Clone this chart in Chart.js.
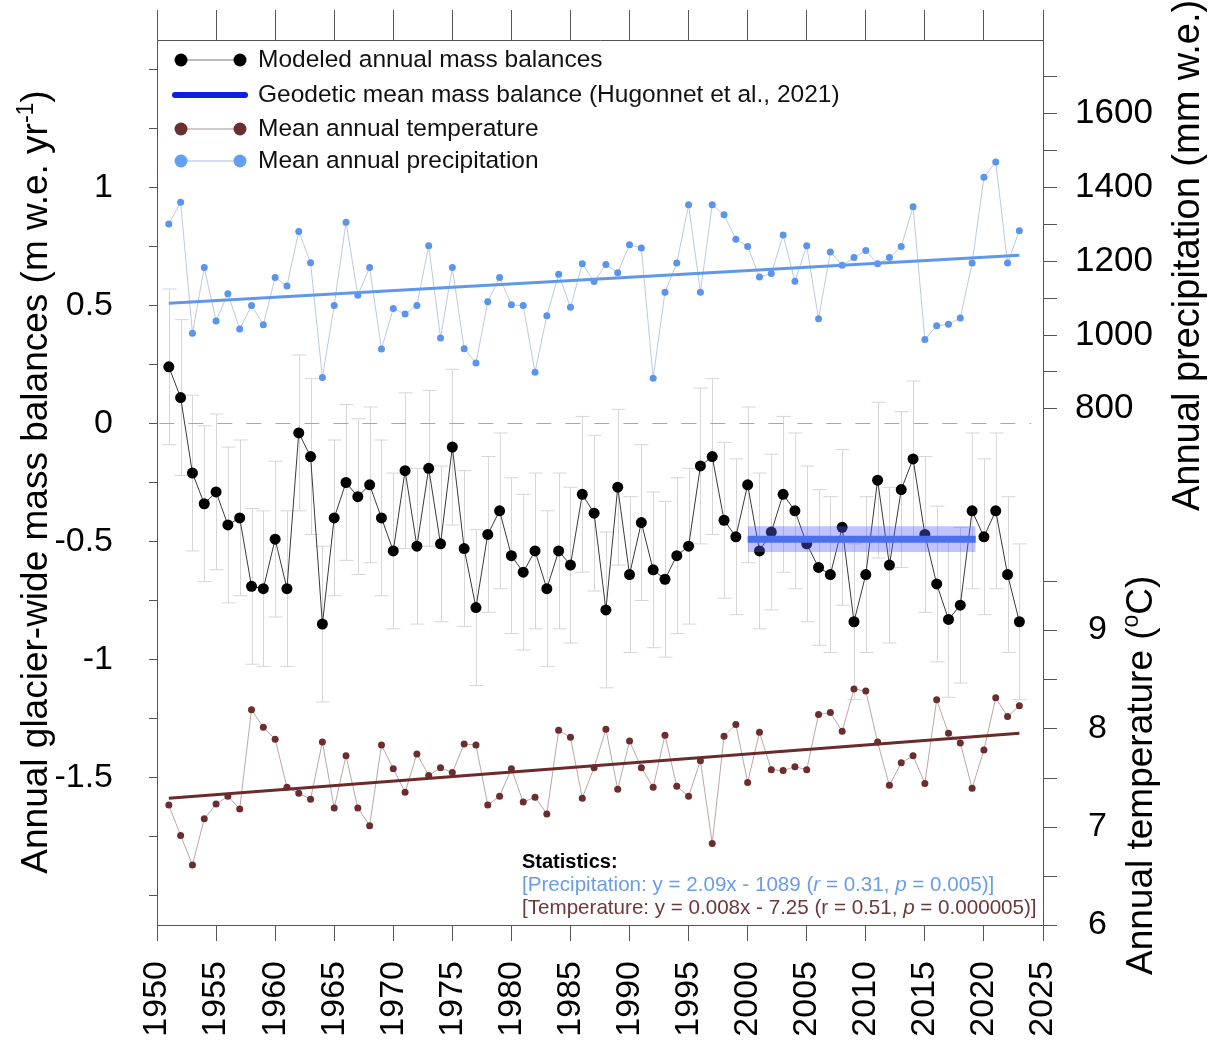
<!DOCTYPE html>
<html>
<head>
<meta charset="utf-8">
<script src="https://cdn.jsdelivr.net/npm/chart.js@4.4.1/dist/chart.umd.min.js"></script>
<style>
  html, body { margin: 0; padding: 0; background: #fff; }
  #wrap { width: 1208px; height: 1041px; position: relative; }
</style>
</head>
<body>
<div id="wrap"><canvas id="massChart"></canvas></div>
<script>
// years of the modeled series
const years = [
  1951, 1952, 1953, 1954, 1955, 1956, 1957, 1958, 1959, 1960,
  1961, 1962, 1963, 1964, 1965, 1966, 1967, 1968, 1969, 1970,
  1971, 1972, 1973, 1974, 1975, 1976, 1977, 1978, 1979, 1980,
  1981, 1982, 1983, 1984, 1985, 1986, 1987, 1988, 1989, 1990,
  1991, 1992, 1993, 1994, 1995, 1996, 1997, 1998, 1999, 2000,
  2001, 2002, 2003, 2004, 2005, 2006, 2007, 2008, 2009, 2010,
  2011, 2012, 2013, 2014, 2015, 2016, 2017, 2018, 2019, 2020,
  2021, 2022, 2023
];
// m w.e. per year
const massBalance = [
  0.24, 0.11, -0.21, -0.34, -0.29, -0.43, -0.40, -0.69, -0.70, -0.49,
  -0.70, -0.04, -0.14, -0.85, -0.40, -0.25, -0.31, -0.26, -0.40, -0.54,
  -0.20, -0.52, -0.19, -0.51, -0.10, -0.53, -0.78, -0.47, -0.37, -0.56,
  -0.63, -0.54, -0.70, -0.54, -0.60, -0.30, -0.38, -0.79, -0.27, -0.64,
  -0.42, -0.62, -0.66, -0.56, -0.52, -0.18, -0.14, -0.41, -0.48, -0.26,
  -0.54, -0.46, -0.30, -0.37, -0.51, -0.61, -0.64, -0.44, -0.84, -0.64,
  -0.24, -0.60, -0.28, -0.15, -0.47, -0.68, -0.83, -0.77, -0.37, -0.48,
  -0.37, -0.64, -0.84
];
const massError = 0.33;
// mm w.e.
const precipitation = [
  1301, 1360, 1005, 1183, 1038, 1112, 1016, 1080, 1028, 1156,
  1133, 1281, 1196, 885, 1080, 1306, 1108, 1183, 962, 1072,
  1057, 1080, 1242, 992, 1183, 963, 924, 1090, 1156, 1082,
  1080, 899, 1052, 1165, 1075, 1193, 1145, 1191, 1169, 1245,
  1236, 883, 1116, 1195, 1353, 1116, 1353, 1326, 1260, 1240,
  1157, 1167, 1271, 1146, 1242, 1044, 1225, 1189, 1210, 1229,
  1193, 1210, 1240, 1348, 988, 1025, 1029, 1046, 1195, 1428,
  1469, 1195, 1283
];
// deg C
const temperature = [
  7.22, 6.91, 6.61, 7.08, 7.23, 7.31, 7.18, 8.19, 8.01, 7.89,
  7.40, 7.34, 7.28, 7.86, 7.19, 7.72, 7.19, 7.01, 7.83, 7.59,
  7.35, 7.74, 7.52, 7.60, 7.55, 7.84, 7.83, 7.22, 7.31, 7.59,
  7.25, 7.30, 7.13, 7.98, 7.91, 7.29, 7.60, 7.99, 7.38, 7.87,
  7.60, 7.40, 7.93, 7.41, 7.31, 7.67, 6.83, 7.92, 8.04, 7.45,
  7.96, 7.58, 7.57, 7.61, 7.58, 8.14, 8.16, 7.97, 8.40, 8.38,
  7.86, 7.42, 7.65, 7.72, 7.44, 8.29, 7.95, 7.85, 7.39, 7.78,
  8.31, 8.12, 8.23
];
const trendYears = [1951, 2023];
const precipTrend = [1086, 1216];
const tempTrend = [7.29, 7.95];
const geodeticYears = [2000, 2019.3];
const geodeticMean = -0.49;
const geodeticLow = -0.545;
const geodeticHigh = -0.435;
const zeroLineYears = [1950.2, 2024];

const xTicks = [1950, 1955, 1960, 1965, 1970, 1975, 1980, 1985, 1990, 1995, 2000, 2005, 2010, 2015, 2020, 2025];
const massTicks = [-2, -1.75, -1.5, -1.25, -1, -0.75, -0.5, -0.25, 0, 0.25, 0.5, 0.75, 1, 1.25, 1.5];
const massLabels = [-1.5, -1, -0.5, 0, 0.5, 1];
const precipTicks = [800, 900, 1000, 1100, 1200, 1300, 1400, 1500, 1600, 1700];
const precipLabels = [800, 1000, 1200, 1400, 1600];
const tempTicks = [6, 6.5, 7, 7.5, 8, 8.5, 9, 9.5];
const tempLabels = [6, 7, 8, 9];

const FONT = 'Liberation Sans, Arial, sans-serif';
const AXIS = '#555';
Chart.defaults.font.family = FONT;
Chart.defaults.color = '#000';

const pts = (xs, ys) => xs.map((x, i) => ({ x: x, y: ys[i] }));

// fixed axis sizes so the plot box lands where the original has it
const fixY = w => s => { s.width = w; s.paddingTop = 0; s.paddingBottom = 0; };
const fixX = h => s => { s.height = h; s.paddingLeft = 0; s.paddingRight = 0; };

const errorBars = {
  id: 'errorBars',
  beforeDatasetsDraw(chart) {
    const { ctx, chartArea, scales } = chart;
    const x = scales.x, y = scales.yMass;
    ctx.save();
    ctx.beginPath();
    ctx.rect(chartArea.left, chartArea.top, chartArea.width, chartArea.height);
    ctx.clip();
    ctx.strokeStyle = '#d6d6d6';
    ctx.lineWidth = 1;
    years.forEach((yr, i) => {
      const px = Math.round(x.getPixelForValue(yr)) + 0.5;
      const top = y.getPixelForValue(massBalance[i] + massError);
      const bot = y.getPixelForValue(massBalance[i] - massError);
      ctx.beginPath();
      ctx.moveTo(px, top); ctx.lineTo(px, bot);
      ctx.moveTo(px - 7, top); ctx.lineTo(px + 7, top);
      ctx.moveTo(px - 7, bot); ctx.lineTo(px + 7, bot);
      ctx.stroke();
    });
    ctx.restore();
  }
};

function runsWidth(ctx, runs) {
  let w = 0;
  runs.forEach(r => { ctx.font = r.font; w += ctx.measureText(r.text).width; });
  return w;
}
function drawRuns(ctx, runs, x, y) {
  let cx = x;
  runs.forEach(r => {
    ctx.font = r.font;
    ctx.fillStyle = r.color || ctx.fillStyle;
    ctx.fillText(r.text, cx, y + (r.dy || 0));
    cx += ctx.measureText(r.text).width;
  });
}

const extras = {
  id: 'extras',
  afterDraw(chart) {
    const { ctx, chartArea, scales } = chart;
    const yT = scales.yTemp;
    ctx.save();

    // temperature axis (shares the right border)
    ctx.strokeStyle = AXIS;
    ctx.lineWidth = 1;
    tempTicks.forEach(v => {
      const py = Math.round(yT.getPixelForValue(v)) + 0.5;
      ctx.beginPath();
      ctx.moveTo(chartArea.right, py);
      ctx.lineTo(chartArea.right + 14, py);
      ctx.stroke();
    });
    ctx.fillStyle = '#000';
    ctx.font = '34px ' + FONT;
    ctx.textAlign = 'left';
    ctx.textBaseline = 'middle';
    tempLabels.forEach(v => ctx.fillText(String(v), chartArea.right + 45, yT.getPixelForValue(v)));

    // axis titles
    const big = '37px ' + FONT, small = '23px ' + FONT;
    ctx.textAlign = 'left';
    ctx.textBaseline = 'alphabetic';
    ctx.fillStyle = '#000';

    const leftRuns = [
      { text: 'Annual glacier-wide mass balances (m w.e. yr', font: big },
      { text: '-1', font: small, dy: -14 },
      { text: ')', font: big }
    ];
    ctx.save();
    ctx.translate(47, 482);
    ctx.rotate(-Math.PI / 2);
    drawRuns(ctx, leftRuns, -runsWidth(ctx, leftRuns) / 2, 0);
    ctx.restore();

    ctx.save();
    ctx.translate(1199, 511);
    ctx.rotate(-Math.PI / 2);
    drawRuns(ctx, [{ text: 'Annual precipitation (mm w.e.)', font: '38px ' + FONT }], 0, 0);
    ctx.restore();

    ctx.save();
    ctx.translate(1152, 975);
    ctx.rotate(-Math.PI / 2);
    drawRuns(ctx, [
      { text: 'Annual temperature (', font: big },
      { text: 'o', font: small, dy: -14 },
      { text: 'C)', font: big }
    ], 0, 0);
    ctx.restore();

    // legend
    const legendFont = '24.5px ' + FONT;
    const rows = [
      { y: 60, kind: 'dots', dot: '#000', line: '#777', r: 6.5, text: 'Modeled annual mass balances' },
      { y: 95, kind: 'bar', line: '#0d1fe0', text: 'Geodetic mean mass balance (Hugonnet et al., 2021)' },
      { y: 129, kind: 'dots', dot: '#6a3030', line: '#a89090', r: 6.5, text: 'Mean annual temperature' },
      { y: 161, kind: 'dots', dot: '#62a0f5', line: '#aabbd8', r: 6.5, text: 'Mean annual precipitation' }
    ];
    rows.forEach(row => {
      if (row.kind === 'bar') {
        ctx.strokeStyle = row.line;
        ctx.lineWidth = 6;
        ctx.lineCap = 'round';
        ctx.beginPath(); ctx.moveTo(175, row.y); ctx.lineTo(245, row.y); ctx.stroke();
        ctx.lineCap = 'butt';
      } else {
        ctx.strokeStyle = row.line;
        ctx.lineWidth = 1;
        ctx.beginPath(); ctx.moveTo(181, row.y); ctx.lineTo(240, row.y); ctx.stroke();
        ctx.fillStyle = row.dot;
        [181, 240].forEach(cx => { ctx.beginPath(); ctx.arc(cx, row.y, row.r, 0, Math.PI * 2); ctx.fill(); });
      }
      ctx.fillStyle = '#111';
      ctx.font = legendFont;
      ctx.textBaseline = 'middle';
      ctx.fillText(row.text, 258, row.y);
    });

    // statistics box
    const st = '20.6px ' + FONT, sti = 'italic 20.6px ' + FONT;
    ctx.textBaseline = 'alphabetic';
    ctx.fillStyle = '#000';
    ctx.font = 'bold 20px ' + FONT;
    ctx.fillText('Statistics:', 522, 868);
    const blue = '#6a9de8', brown = '#6e3838';
    drawRuns(ctx, [
      { text: '[Precipitation: y = 2.09x - 1089 (', font: st, color: blue },
      { text: 'r', font: sti, color: blue },
      { text: ' = 0.31, ', font: st, color: blue },
      { text: 'p', font: sti, color: blue },
      { text: ' = 0.005)]', font: st, color: blue }
    ], 522, 891);
    drawRuns(ctx, [
      { text: '[Temperature: y = 0.008x - 7.25 (r = 0.51, ', font: st, color: brown },
      { text: 'p', font: sti, color: brown },
      { text: ' = 0.000005)]', font: st, color: brown }
    ], 522, 914);

    ctx.restore();
  }
};

const ctx = document.getElementById('massChart');

new Chart(ctx, {
  type: 'line',
  data: {
    datasets: [
      {
        label: 'Geodetic mean mass balance (Hugonnet et al., 2021)',
        data: pts(geodeticYears, [geodeticMean, geodeticMean]),
        yAxisID: 'yMass',
        borderColor: '#4a70ee',
        borderWidth: 7,
        pointRadius: 0,
        order: 0
      },
      {
        label: 'Geodetic uncertainty',
        data: pts(geodeticYears, [geodeticHigh, geodeticHigh]),
        yAxisID: 'yMass',
        borderWidth: 0,
        pointRadius: 0,
        fill: { value: geodeticLow },
        backgroundColor: 'rgba(95,95,255,0.38)',
        order: 1
      },
      {
        label: 'Modeled annual mass balances',
        data: pts(years, massBalance),
        yAxisID: 'yMass',
        borderColor: '#3a3a3a',
        borderWidth: 1,
        pointRadius: 5.5,
        pointBackgroundColor: '#000',
        pointBorderWidth: 0,
        order: 2
      },
      {
        label: 'Temperature trend',
        data: pts(trendYears, tempTrend),
        yAxisID: 'yTemp',
        borderColor: '#6b2b2b',
        borderWidth: 3,
        pointRadius: 0,
        order: 3
      },
      {
        label: 'Mean annual temperature',
        data: pts(years, temperature),
        yAxisID: 'yTemp',
        borderColor: '#bba6a6',
        borderWidth: 1,
        pointRadius: 3.5,
        pointBackgroundColor: '#6b2d2d',
        pointBorderWidth: 0,
        order: 4
      },
      {
        label: 'Precipitation trend',
        data: pts(trendYears, precipTrend),
        yAxisID: 'yPrec',
        borderColor: '#5f97ee',
        borderWidth: 3,
        pointRadius: 0,
        order: 5
      },
      {
        label: 'Mean annual precipitation',
        data: pts(years, precipitation),
        yAxisID: 'yPrec',
        borderColor: '#bccadf',
        borderWidth: 1,
        pointRadius: 3.5,
        pointBackgroundColor: '#5b94ec',
        pointBorderWidth: 0,
        order: 6
      },
      {
        label: 'zero',
        data: pts(zeroLineYears, [0, 0]),
        yAxisID: 'yMass',
        borderColor: '#a8a8a8',
        borderWidth: 1,
        borderDash: [15, 14],
        pointRadius: 0,
        order: 7
      }
    ]
  },
  options: {
    responsive: true,
    maintainAspectRatio: false,
    animation: false,
    layout: { padding: 0 },
    plugins: {
      legend: { display: false },
      tooltip: { enabled: false }
    },
    scales: {
      x: {
        type: 'linear',
        position: 'bottom',
        min: 1950,
        max: 2025,
        afterBuildTicks: s => { s.ticks = xTicks.map(v => ({ value: v })); },
        afterFit: fixX(116),
        ticks: { minRotation: 90, maxRotation: 90, padding: 20, font: { size: 34 }, color: '#000', callback: v => String(v) },
        grid: { drawOnChartArea: false, tickLength: 16, color: AXIS },
        border: { color: AXIS }
      },
      xTop: {
        type: 'linear',
        position: 'top',
        min: 1950,
        max: 2025,
        afterBuildTicks: s => { s.ticks = xTicks.map(v => ({ value: v })); },
        afterFit: fixX(40),
        ticks: { display: false },
        grid: { drawOnChartArea: false, tickLength: 30, color: AXIS },
        border: { color: AXIS }
      },
      yMass: {
        type: 'linear',
        position: 'left',
        min: -2.125,
        max: 1.625,
        afterBuildTicks: s => { s.ticks = massTicks.map(v => ({ value: v })); },
        afterFit: fixY(157),
        ticks: { padding: 36, font: { size: 34 }, color: '#000', callback: v => massLabels.includes(v) ? String(v) : '' },
        grid: { drawOnChartArea: false, tickLength: 8, color: AXIS },
        border: { color: AXIS }
      },
      yPrec: {
        type: 'linear',
        position: 'right',
        min: -600,
        max: 1800,
        afterBuildTicks: s => { s.ticks = precipTicks.map(v => ({ value: v })); },
        afterFit: fixY(165),
        ticks: { padding: 18, font: { size: 35 }, color: '#000', callback: v => precipLabels.includes(v) ? String(v) : '' },
        grid: { drawOnChartArea: false, tickLength: 14, color: AXIS },
        border: { color: AXIS }
      },
      yTemp: {
        type: 'linear',
        display: false,
        position: 'right',
        min: 6,
        max: 15
      }
    }
  },
  plugins: [errorBars, extras]
});
</script>
</body>
</html>
